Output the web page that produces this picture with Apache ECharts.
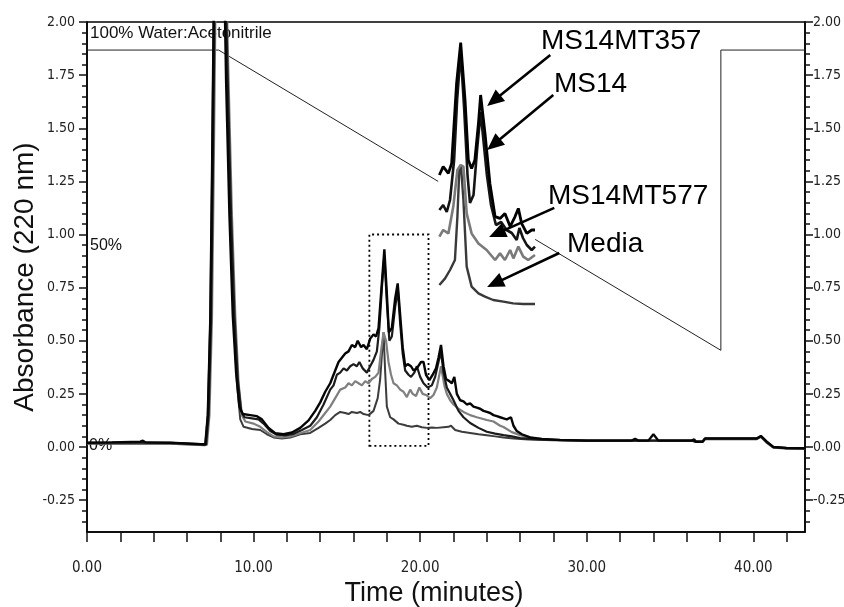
<!DOCTYPE html>
<html><head><meta charset="utf-8">
<script src="https://cdn.jsdelivr.net/npm/echarts@6/dist/echarts.min.js"></script>
<style>html,body{margin:0;padding:0;background:#fff}#c{width:844px;height:607px}</style>
</head><body><div id="c"></div>
<script>
// ---- axis ticks / labels ----
const xTickValues = [0,2,4,6,8,10,12,14,16,18,20,22,24,26,28,30,32,34,36,38,40,42];
const xLabelValues = [0,10,20,30,40];
const yMajorValues = [-0.25,0,0.25,0.5,0.75,1,1.25,1.5,1.75,2];
const yMinorValues = [-0.35,-0.3,-0.2,-0.15,-0.1,-0.05,0.05,0.1,0.15,0.2,0.3,0.35,0.4,0.45,0.55,0.6,0.65,0.7,0.8,0.85,0.9,0.95,1.05,1.1,1.15,1.2,1.3,1.35,1.4,1.45,1.55,1.6,1.65,1.7,1.8,1.85,1.9,1.95];

// ---- main chromatograms [time (min), absorbance] ----
const ms14mt357 = [[0,0.02],[1.5,0.022],[3.2,0.025],[3.35,0.03],[3.5,0.022],[5.0,0.02],[5.05,0.012],[7.1,0.012],[7.25,0.15],[7.4,0.6],[7.5,1.25],[7.6,2.0],[7.75,2.8],[7.95,3.0],[8.2,2.4],[8.35,1.72],[8.55,1.09],[8.75,0.62],[8.95,0.35],[9.15,0.19],[9.35,0.155],[9.8,0.15],[10.2,0.145],[10.5,0.13],[10.9,0.09],[11.3,0.065],[11.8,0.06],[12.3,0.068],[12.8,0.09],[13.3,0.125],[13.7,0.17],[14.0,0.21],[14.3,0.26],[14.6,0.3],[14.9,0.36],[15.1,0.4],[15.3,0.42],[15.5,0.44],[15.7,0.45],[15.9,0.48],[16.1,0.47],[16.25,0.5],[16.45,0.47],[16.6,0.48],[16.8,0.46],[17.0,0.51],[17.2,0.53],[17.35,0.52],[17.5,0.56],[17.65,0.72],[17.85,0.93],[18.0,0.72],[18.12,0.54],[18.3,0.56],[18.5,0.7],[18.65,0.77],[18.8,0.62],[18.95,0.47],[19.1,0.38],[19.25,0.39],[19.45,0.38],[19.6,0.36],[19.8,0.37],[20.05,0.4],[20.2,0.4],[20.35,0.34],[20.55,0.315],[20.75,0.34],[20.95,0.37],[21.1,0.42],[21.25,0.48],[21.4,0.38],[21.55,0.32],[21.75,0.31],[21.9,0.3],[22.05,0.33],[22.2,0.25],[22.4,0.22],[22.6,0.215],[22.8,0.2],[23.0,0.205],[23.2,0.19],[23.4,0.185],[23.6,0.18],[23.8,0.17],[24.0,0.165],[24.2,0.16],[24.4,0.15],[24.6,0.145],[24.8,0.14],[25.0,0.135],[25.2,0.13],[25.45,0.14],[25.6,0.1],[25.8,0.075],[26.1,0.06],[26.6,0.045],[27.3,0.038],[28.4,0.033],[30,0.03],[32.7,0.03],[32.9,0.038],[33.1,0.03],[33.7,0.03],[34.0,0.06],[34.3,0.03],[36.3,0.03],[36.45,0.036],[36.55,0.025],[36.95,0.025],[37.1,0.04],[40.2,0.04],[40.45,0.052],[40.8,0.025],[41.2,0.0],[42,-0.005],[43.1,-0.006]];
const ms14 = [[0,0.02],[3.2,0.022],[5.0,0.02],[5.05,0.012],[7.15,0.012],[7.3,0.15],[7.45,0.6],[7.55,1.25],[7.65,2.0],[7.8,2.8],[8.0,3.0],[8.25,2.4],[8.45,1.72],[8.65,1.09],[8.85,0.62],[9.05,0.32],[9.25,0.17],[9.45,0.14],[9.9,0.135],[10.3,0.13],[10.6,0.11],[11.0,0.075],[11.4,0.058],[11.9,0.055],[12.4,0.062],[12.9,0.08],[13.4,0.1],[13.8,0.14],[14.2,0.2],[14.6,0.27],[14.8,0.29],[15.0,0.34],[15.2,0.35],[15.4,0.37],[15.6,0.36],[15.8,0.38],[16.0,0.39],[16.2,0.38],[16.35,0.4],[16.55,0.37],[16.8,0.35],[17.0,0.38],[17.2,0.41],[17.4,0.45],[17.55,0.56],[17.7,0.75],[17.85,0.9],[18.0,0.68],[18.15,0.5],[18.3,0.52],[18.5,0.66],[18.66,0.74],[18.8,0.58],[18.95,0.44],[19.1,0.36],[19.3,0.34],[19.45,0.33],[19.65,0.35],[19.8,0.38],[20.0,0.33],[20.2,0.3],[20.45,0.28],[20.7,0.29],[20.9,0.33],[21.1,0.4],[21.25,0.45],[21.4,0.35],[21.6,0.28],[21.8,0.25],[22.0,0.22],[22.3,0.17],[22.6,0.14],[23.0,0.113],[23.5,0.09],[24.0,0.072],[24.5,0.063],[25.0,0.056],[25.5,0.05],[26.0,0.042],[26.6,0.038],[27.5,0.035],[28.4,0.033],[30,0.03],[33.7,0.03],[36.3,0.03],[36.55,0.025],[36.95,0.025],[37.1,0.04],[40.2,0.04],[40.45,0.05],[40.8,0.025],[41.2,0.0],[42,-0.005],[43.1,-0.006]];
const ms14mt577 = [[0,0.018],[5.0,0.018],[5.05,0.01],[7.2,0.01],[7.35,0.15],[7.5,0.6],[7.6,1.25],[7.7,2.0],[7.85,2.8],[8.05,3.0],[8.3,2.4],[8.5,1.72],[8.7,1.09],[8.9,0.62],[9.1,0.3],[9.3,0.15],[9.5,0.12],[10.0,0.11],[10.4,0.095],[10.8,0.07],[11.2,0.05],[11.7,0.045],[12.2,0.05],[12.8,0.065],[13.4,0.08],[13.9,0.12],[14.3,0.16],[14.6,0.19],[14.9,0.23],[15.2,0.27],[15.5,0.28],[15.7,0.3],[15.9,0.29],[16.1,0.31],[16.3,0.3],[16.5,0.29],[16.7,0.31],[16.9,0.3],[17.1,0.32],[17.3,0.33],[17.5,0.35],[17.65,0.45],[17.8,0.54],[17.95,0.5],[18.1,0.4],[18.25,0.34],[18.4,0.3],[18.6,0.29],[18.8,0.27],[19.0,0.26],[19.2,0.235],[19.4,0.27],[19.55,0.25],[19.75,0.24],[19.95,0.28],[20.15,0.25],[20.35,0.245],[20.6,0.23],[20.8,0.245],[21.0,0.28],[21.25,0.38],[21.45,0.29],[21.6,0.25],[21.8,0.22],[22.0,0.2],[22.3,0.18],[22.6,0.165],[23.0,0.15],[23.4,0.14],[24.0,0.127],[24.4,0.12],[24.8,0.1],[25.0,0.094],[25.5,0.07],[26.0,0.056],[26.5,0.045],[27.0,0.04],[28,0.033],[30,0.03],[36.3,0.03],[36.55,0.025],[36.95,0.025],[37.1,0.038],[40.2,0.038],[40.45,0.05],[40.8,0.022],[41.2,-0.002],[42,-0.006],[43.1,-0.007]];
const media = [[0,0.015],[5.0,0.015],[5.05,0.008],[7.1,0.008],[7.25,0.15],[7.4,0.6],[7.5,1.25],[7.6,2.0],[7.75,2.8],[7.95,3.0],[8.2,2.4],[8.4,1.72],[8.6,1.09],[8.8,0.62],[9.0,0.3],[9.2,0.13],[9.4,0.095],[9.9,0.085],[10.4,0.08],[10.8,0.06],[11.2,0.045],[11.7,0.04],[12.2,0.045],[12.8,0.06],[13.4,0.066],[13.9,0.09],[14.3,0.11],[14.6,0.127],[14.9,0.15],[15.2,0.165],[15.5,0.16],[15.7,0.155],[15.9,0.165],[16.2,0.16],[16.4,0.165],[16.6,0.155],[16.9,0.15],[17.2,0.17],[17.45,0.23],[17.6,0.32],[17.8,0.54],[17.9,0.35],[18.0,0.19],[18.2,0.14],[18.4,0.13],[18.7,0.11],[19.0,0.105],[19.2,0.1],[19.5,0.095],[19.8,0.1],[20.1,0.093],[20.4,0.09],[20.7,0.092],[21.0,0.09],[21.4,0.093],[21.7,0.095],[21.85,0.1],[22.1,0.08],[22.5,0.072],[23.0,0.066],[23.5,0.06],[24.0,0.055],[24.5,0.05],[25.0,0.045],[25.6,0.04],[26.5,0.035],[28,0.032],[30,0.03],[36.3,0.03],[36.55,0.024],[36.95,0.024],[37.1,0.037],[40.2,0.037],[40.45,0.048],[40.8,0.02],[41.2,-0.003],[42,-0.007],[43.1,-0.008]];

// ---- solvent gradient trace (drawn on absorbance scale), gap where the inset covers it ----
const gradient = [[0,1.868],[7.9,1.868],[21.08,1.25],[21.1,null],[26.9,0.977],[38.05,0.455],[38.05,1.868],[43.1,1.868]];

// ---- inset (zoom of 16.95–20.5 min, traces stacked) [time, relative height] ----
const insetMs14mt357 = [[17.0,0.675],[17.14,0.717],[17.33,0.683],[17.45,0.733],[17.63,1.133],[17.78,1.337],[17.94,1.05],[18.06,0.75],[18.18,0.708],[18.3,0.75],[18.43,0.933],[18.51,1.075],[18.67,0.883],[18.85,0.633],[19.04,0.467],[19.22,0.458],[19.4,0.483],[19.59,0.417],[19.77,0.467],[19.89,0.508],[20.01,0.433],[20.2,0.383],[20.38,0.4],[20.5,0.4]];
const insetMs14 = [[17.0,0.5],[17.14,0.525],[17.27,0.49],[17.39,0.55],[17.54,0.75],[17.65,1.05],[17.78,1.29],[17.91,1.0],[18.03,0.675],[18.12,0.535],[18.25,0.575],[18.38,0.8],[18.51,0.99],[18.63,0.825],[18.74,0.675],[18.89,0.525],[19.07,0.425],[19.26,0.44],[19.46,0.4],[19.65,0.385],[19.83,0.35],[19.93,0.41],[20.06,0.36],[20.2,0.325],[20.38,0.3],[20.5,0.317]];
const insetMs14mt577 = [[17.0,0.367],[17.14,0.4],[17.33,0.383],[17.51,0.517],[17.66,0.7],[17.78,0.725],[17.88,0.717],[18.0,0.483],[18.18,0.383],[18.43,0.333],[18.73,0.3],[19.04,0.25],[19.22,0.283],[19.4,0.25],[19.59,0.3],[19.71,0.258],[19.89,0.317],[20.07,0.267],[20.25,0.25],[20.5,0.275]];
const insetMedia = [[17.0,0.125],[17.21,0.158],[17.39,0.2],[17.57,0.25],[17.66,0.467],[17.73,0.7],[17.79,0.725],[17.88,0.55],[18.0,0.217],[18.18,0.117],[18.43,0.083],[18.67,0.067],[18.97,0.05],[19.34,0.042],[19.7,0.033],[20.07,0.03],[20.5,0.03]];

// ---- annotations ----
const zoomBox = [[16.95,0.005],[20.5,1.0]];
const arrowLabels = ['MS14MT357','MS14','MS14MT577','Media'];
// [startTime, startAbs, tipTime, tipAbs]
const arrows = [[27.81,1.845,24.02,1.605],[27.99,1.656,24.02,1.398],[28.05,1.125,24.14,0.988],[28.35,0.913,24.02,0.753]];

const narrow = "'Liberation Sans Narrow','DejaVu Sans Condensed','Arial Narrow',sans-serif";
const sans = "'Liberation Sans',Arial,Helvetica,sans-serif";
const fmt = v => v.toFixed(2);

const chart = echarts.init(document.getElementById('c'), null, {renderer:'canvas'});

function yAx(pos, minor, withLabel, name) {
  return {
    type:'value', gridIndex:0, position:pos, min:-0.4, max:2,
    splitLine:{show:false},
    axisLine:{show:!minor, onZero:false, lineStyle:{color:'#000', width:1.5}},
    axisTick:{show:true, inside:false, length: minor?5:8, customValues: minor?yMinorValues:yMajorValues, lineStyle:{color:'#111', width:1.5}},
    axisLabel:{show:withLabel, customValues:yMajorValues, formatter:fmt, margin: pos==='left'?12:8, color:'#222', fontFamily:narrow, fontSize:14},
    name: name||'', nameLocation:'middle', nameGap:48, nameRotate:90, nameMoveOverlap:false,
    nameTextStyle:{fontFamily:sans, fontSize:28, color:'#111'}
  };
}

function renderArrow(params, api) {
  const s = api.coord([api.value(0), api.value(1)]);
  const e = api.coord([api.value(2), api.value(3)]);
  const dx = e[0]-s[0], dy = e[1]-s[1];
  const L = Math.sqrt(dx*dx+dy*dy) || 1;
  const ux = dx/L, uy = dy/L;
  const hl = 17, hw = 7.5;
  const bx = e[0]-ux*hl, by = e[1]-uy*hl;
  return {type:'group', children:[
    {type:'line', shape:{x1:s[0], y1:s[1], x2:bx+ux*2, y2:by+uy*2}, style:{stroke:'#000', lineWidth:2.6}},
    {type:'polygon', shape:{points:[[e[0],e[1]],[bx-uy*hw, by+ux*hw],[bx+uy*hw, by-ux*hw]]}, style:{fill:'#000'}}
  ]};
}

const option = {
  animation:false,
  backgroundColor:'#fff',
  grid:[
    {left:87, top:22, width:718, height:510, show:true, borderColor:'#000', borderWidth:1.5, backgroundColor:'transparent', containLabel:false, outerBoundsMode:'none'},
    {left:438, top:30, width:97, height:280, show:false, containLabel:false, outerBoundsMode:'none'}
  ],
  xAxis:[
    {type:'value', gridIndex:0, min:0, max:43.1, position:'bottom',
     splitLine:{show:false},
     axisLine:{onZero:false, lineStyle:{color:'#000', width:1.5}},
     axisTick:{show:true, length:10, customValues:xTickValues, lineStyle:{color:'#111', width:1.5}},
     axisLabel:{customValues:xLabelValues, formatter:fmt, margin:29, color:'#222', fontFamily:narrow, fontSize:15},
     name:'Time (minutes)', nameLocation:'middle', nameGap:48, nameMoveOverlap:false,
     nameTextStyle:{fontFamily:sans, fontSize:27, color:'#111', padding:[0,24,0,0]}},
    {type:'value', gridIndex:1, min:16.95, max:20.5, show:false}
  ],
  yAxis:[
    yAx('left', false, true, 'Absorbance (220 nm)'),
    yAx('left', true, false),
    yAx('right', false, true),
    yAx('right', true, false),
    {type:'value', gridIndex:1, min:0, max:1.4, show:false}
  ],
  series:[
    {name:'gradient', type:'line', xAxisIndex:0, yAxisIndex:0, data:gradient, showSymbol:false, connectNulls:false,
     lineStyle:{color:'#222', width:1}, z:1},
    {name:'Media', type:'line', xAxisIndex:0, yAxisIndex:0, data:media, showSymbol:false, lineStyle:{color:'#3c3c3c', width:2}, z:2},
    {name:'MS14MT577', type:'line', xAxisIndex:0, yAxisIndex:0, data:ms14mt577, showSymbol:false, lineStyle:{color:'#7f7f7f', width:2.2}, z:3},
    {name:'MS14', type:'line', xAxisIndex:0, yAxisIndex:0, data:ms14, showSymbol:false, lineStyle:{color:'#1c1c1c', width:2.2}, z:4},
    {name:'MS14MT357', type:'line', xAxisIndex:0, yAxisIndex:0, data:ms14mt357, showSymbol:false, lineStyle:{color:'#050505', width:2.4}, z:5,
     markArea:{silent:true, itemStyle:{color:'rgba(0,0,0,0)', borderColor:'#000', borderWidth:1.8, borderType:[2,3]},
       data:[[{coord:zoomBox[0]},{coord:zoomBox[1]}]]}
    },
    {name:'inset Media', type:'line', xAxisIndex:1, yAxisIndex:4, data:insetMedia, showSymbol:false, lineStyle:{color:'#3a3a3a', width:2.4}, z:6},
    {name:'inset MS14MT577', type:'line', xAxisIndex:1, yAxisIndex:4, data:insetMs14mt577, showSymbol:false, lineStyle:{color:'#7a7a7a', width:2.6}, z:7},
    {name:'inset MS14', type:'line', xAxisIndex:1, yAxisIndex:4, data:insetMs14, showSymbol:false, lineStyle:{color:'#141414', width:2.6}, z:8},
    {name:'inset MS14MT357', type:'line', xAxisIndex:1, yAxisIndex:4, data:insetMs14mt357, showSymbol:false, lineStyle:{color:'#000', width:2.8}, z:9},
    {name:'arrows', type:'custom', xAxisIndex:0, yAxisIndex:0, data:arrows, renderItem:renderArrow, clip:false, silent:true,
     encode:{x:[0,2], y:[1,3]}, z:10}
  ],
  graphic:[
    {type:'text', left:90, top:25, style:{text:'100% Water:Acetonitrile', font:'17px '+sans, fill:'#111'}},
    {type:'text', left:90, top:238, style:{text:'50%', font:'16px '+sans, fill:'#111'}},
    {type:'text', left:89, top:438, style:{text:'0%', font:'16px '+sans, fill:'#111'}},
    {type:'text', left:541, top:27, style:{text:arrowLabels[0], font:'28px '+sans, fill:'#000'}},
    {type:'text', left:554, top:70, style:{text:arrowLabels[1], font:'28px '+sans, fill:'#000'}},
    {type:'text', left:548, top:182, style:{text:arrowLabels[2], font:'28px '+sans, fill:'#000'}},
    {type:'text', left:567, top:230, style:{text:arrowLabels[3], font:'28px '+sans, fill:'#000'}}
  ]
};
chart.setOption(option);
</script></body></html>
